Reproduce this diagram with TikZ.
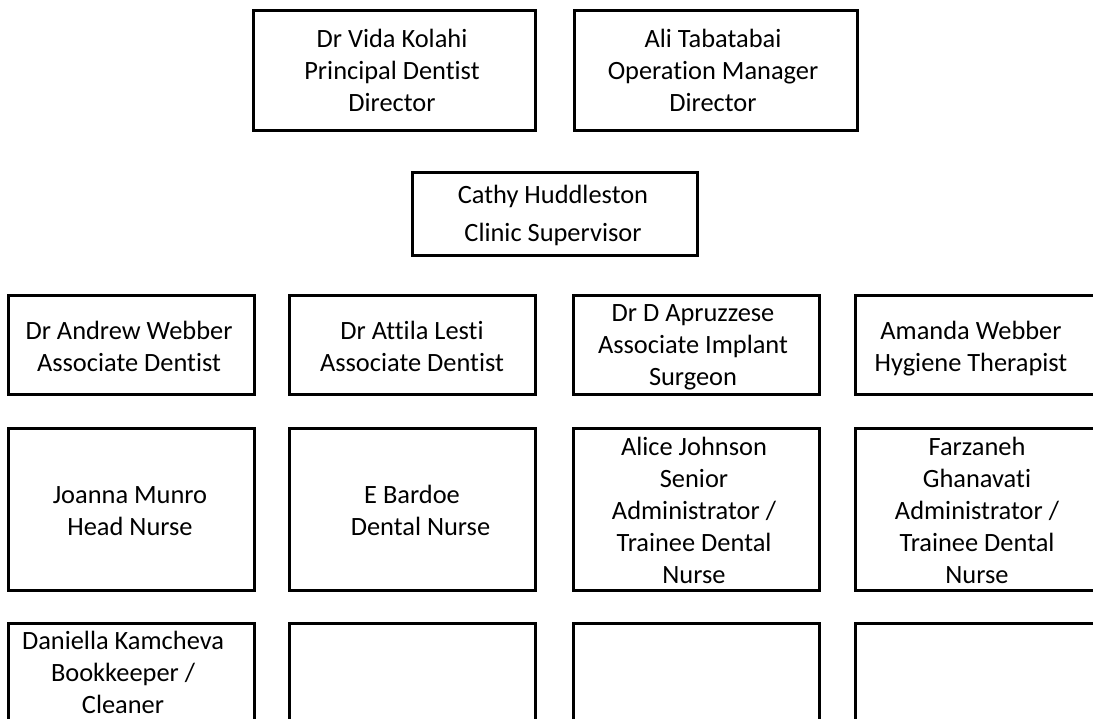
\documentclass[tikz,border=0pt]{standalone}
\usepackage{fontspec}
\setmainfont[Ligatures={NoCommon}]{Carlito}
\newcommand{\fs}{\rule{0pt}{21pt}}
\tikzset{
  box/.style={draw=black, line width=3pt, rectangle, inner sep=0pt},
  txt/.style={anchor=north, align=center, inner sep=0pt, font=\fontsize{26.4}{32}\selectfont},
  txtw/.style={anchor=north, align=center, inner sep=0pt, font=\fontsize{26.4}{38}\selectfont}
}
\begin{document}
\begin{tikzpicture}[x=1pt, y=-1pt]
\useasboundingbox (0,0) rectangle (1093,718);
\clip (0,0) rectangle (1093,718);
% top row
\node[box, minimum width=282pt, minimum height=120pt] (kolahi) at (394,70) {};
\node[txt] (kolahiT) at (392,26) {\fs Dr Vida Kolahi\\Principal Dentist\\Director};
\node[box, minimum width=283pt, minimum height=120pt] (tabatabai) at (715.5,70) {};
\node[txt] (tabatabaiT) at (713,26) {\fs Ali Tabatabai\\Operation Manager\\Director};
% supervisor
\node[box, minimum width=285pt, minimum height=83pt] (cathy) at (554.5,213.5) {};
\node[txtw] (cathyT) at (553,182) {\fs Cathy Huddleston\\Clinic Supervisor};
% row 3
\node[box, minimum width=246pt, minimum height=99pt] (andrew) at (131,344.5) {};
\node[txt] (andrewT) at (129,318) {\fs Dr Andrew Webber\\Associate Dentist};
\node[box, minimum width=246pt, minimum height=99pt] (attila) at (412,344.5) {};
\node[txt] (attilaT) at (412,318) {\fs Dr Attila Lesti\\Associate Dentist};
\node[box, minimum width=246pt, minimum height=99pt] (apruzzese) at (696,344.5) {};
\node[txt] (apruzzeseT) at (693,300) {\fs Dr D Apruzzese\\Associate Implant\\Surgeon};
\node[box, minimum width=246pt, minimum height=99pt] (amanda) at (978,344.5) {};
\node[txt] (amandaT) at (971,318) {\fs Amanda Webber\\Hygiene Therapist};
% row 4
\node[box, minimum width=246pt, minimum height=162pt] (joanna) at (131,509) {};
\node[txt] (joannaT) at (130,482) {\fs Joanna Munro\\Head Nurse};
\node[box, minimum width=246pt, minimum height=162pt] (bardoe) at (412,509) {};
\node[txt] (bardoeT) at (412,482) {\fs E Bardoe\\\hspace*{17pt}Dental Nurse};
\node[box, minimum width=246pt, minimum height=162pt] (alice) at (696,509) {};
\node[txt] (aliceT) at (694,434) {\fs Alice Johnson\\Senior\\Administrator /\\Trainee Dental\\Nurse};
\node[box, minimum width=246pt, minimum height=162pt] (farzaneh) at (978,509) {};
\node[txt] (farzanehT) at (977,434) {\fs Farzaneh\\Ghanavati\\Administrator /\\Trainee Dental\\Nurse};
% row 5
\node[box, minimum width=246pt, minimum height=162pt] (daniella) at (131,704) {};
\node[txt] (daniellaT) at (123,628) {\fs Daniella Kamcheva\\Bookkeeper /\\Cleaner};
\node[box, minimum width=246pt, minimum height=162pt] (empty1) at (412,704) {};
\node[box, minimum width=246pt, minimum height=162pt] (empty2) at (696,704) {};
\node[box, minimum width=246pt, minimum height=162pt] (empty3) at (978,704) {};
\end{tikzpicture}
\end{document}
